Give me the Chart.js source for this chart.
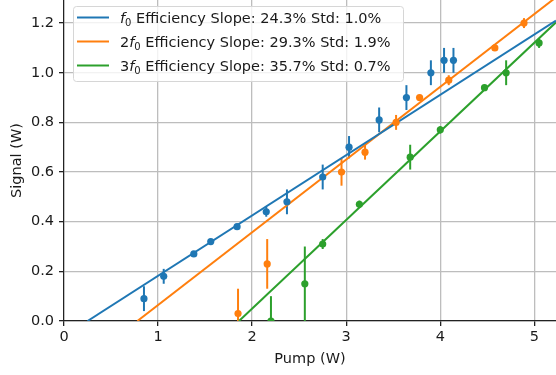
<!DOCTYPE html>
<html lang="en">
<head>
    <meta charset="UTF-8">
    <title>Efficiency Slopes</title>
    <script src="https://cdn.jsdelivr.net/npm/chart.js"></script>
    <style>
        body { margin: 0; background: white; }
        canvas { display: block; }
    </style>
</head>
<body>
    <canvas id="slopeChart" width="556" height="375"></canvas>

    <script>
        // measured points: pump power (W), signal (W), error (W)
        const pumpF0 = [0.85, 1.06, 1.38, 1.56, 1.84, 2.15, 2.37, 2.75, 3.03, 3.35, 3.64, 3.90, 4.04, 4.14];
        const signalF0 = [0.09, 0.18, 0.27, 0.32, 0.38, 0.44, 0.48, 0.58, 0.70, 0.81, 0.90, 1.00, 1.05, 1.05];
        const errF0 = [0.05, 0.03, 0.008, 0.008, 0.008, 0.02, 0.05, 0.05, 0.045, 0.05, 0.05, 0.05, 0.05, 0.05];

        const pump2F0 = [1.85, 2.16, 2.95, 3.20, 3.53, 3.78, 4.09, 4.58, 4.89];
        const signal2F0 = [0.03, 0.23, 0.60, 0.68, 0.80, 0.90, 0.97, 1.10, 1.20];
        const err2F0 = [0.10, 0.10, 0.055, 0.03, 0.03, 0.01, 0.02, 0.01, 0.02];

        const pump3F0 = [2.20, 2.56, 2.75, 3.14, 3.68, 4.00, 4.47, 4.70, 5.05];
        const signal3F0 = [0.00, 0.15, 0.31, 0.47, 0.66, 0.77, 0.94, 1.00, 1.12];
        const err3F0 = [0.10, 0.15, 0.02, 0.015, 0.05, 0.015, 0.01, 0.05, 0.02];

        // linear fits: slope (W/W), threshold (W), std of slope (%)
        const harmonics = [1, 2, 3];
        const slopes = [0.243, 0.293, 0.357];
        const thresholds = [0.25, 0.78, 1.86];
        const stds = [1.0, 1.9, 0.7];
        const colors = ['#1f77b4', '#ff7f0e', '#2ca02c'];

        const xMax = 5.23;
        const yMax = 1.293;

        const pumps = [pumpF0, pump2F0, pump3F0];
        const signals = [signalF0, signal2F0, signal3F0];
        const errors = [errF0, err2F0, err3F0];

        const FONT = 'DejaVu Sans';
        const TEXT = '#1a1a1a';

        const datasets = [];
        harmonics.forEach((h, i) => {
            datasets.push({
                type: 'scatter',
                data: pumps[i].map((x, j) => ({ x: x, y: signals[i][j] })),
                errors: errors[i],
                backgroundColor: colors[i],
                borderWidth: 0,
                pointRadius: 3.6,
                clip: 0
            });
        });
        harmonics.forEach((h, i) => {
            datasets.push({
                type: 'line',
                data: [
                    { x: thresholds[i], y: 0 },
                    { x: xMax, y: slopes[i] * (xMax - thresholds[i]) }
                ],
                borderColor: colors[i],
                borderWidth: 2,
                pointRadius: 0,
                clip: 0
            });
        });

        // vertical error bars for the scatter sets
        const errorBars = {
            id: 'errorBars',
            beforeDatasetsDraw(chart) {
                const { ctx, chartArea, scales } = chart;
                ctx.save();
                ctx.beginPath();
                ctx.rect(chartArea.left, chartArea.top, chartArea.right - chartArea.left, chartArea.bottom - chartArea.top);
                ctx.clip();
                chart.data.datasets.forEach(ds => {
                    if (!ds.errors) return;
                    ctx.strokeStyle = ds.backgroundColor;
                    ctx.lineWidth = 2;
                    ds.data.forEach((p, j) => {
                        const px = scales.x.getPixelForValue(p.x);
                        ctx.beginPath();
                        ctx.moveTo(px, scales.y.getPixelForValue(p.y - ds.errors[j]));
                        ctx.lineTo(px, scales.y.getPixelForValue(p.y + ds.errors[j]));
                        ctx.stroke();
                    });
                });
                ctx.restore();
            }
        };

        // legend with italic f and subscript 0
        const fitLegend = {
            id: 'fitLegend',
            afterDraw(chart) {
                const ctx = chart.ctx;
                const bx = 73, by = 6, bw = 330, bh = 75;
                ctx.save();
                ctx.beginPath();
                ctx.roundRect(bx + 0.5, by + 0.5, bw, bh, 3);
                ctx.fillStyle = 'rgba(255,255,255,0.8)';
                ctx.fill();
                ctx.strokeStyle = '#d6d6d6';
                ctx.lineWidth = 1;
                ctx.stroke();

                ctx.textBaseline = 'alphabetic';
                harmonics.forEach((h, i) => {
                    const rowY = 17.5 + i * 24;
                    ctx.strokeStyle = colors[i];
                    ctx.lineWidth = 2;
                    ctx.beginPath();
                    ctx.moveTo(77, rowY);
                    ctx.lineTo(109, rowY);
                    ctx.stroke();

                    const base = rowY + 5;
                    let x = 120;
                    ctx.fillStyle = TEXT;
                    ctx.font = `14.5px "${FONT}"`;
                    if (h > 1) {
                        ctx.fillText(String(h), x, base);
                        x += ctx.measureText(String(h)).width;
                    }
                    ctx.font = `oblique 14.5px "${FONT}"`;
                    ctx.fillText('f', x, base);
                    x += ctx.measureText('f').width;
                    ctx.font = `10px "${FONT}"`;
                    ctx.fillText('0', x, base + 3);
                    x += ctx.measureText('0').width;
                    ctx.font = `14.5px "${FONT}"`;
                    const rest = ` Efficiency Slope: ${(slopes[i] * 100).toFixed(1)}% Std: ${stds[i].toFixed(1)}%`;
                    ctx.fillText(rest, x, base);
                });
                ctx.restore();
            }
        };

        const tickFont = { family: FONT, size: 14.5 };

        new Chart(document.getElementById('slopeChart'), {
            data: { datasets: datasets },
            options: {
                responsive: false,
                animation: false,
                layout: { padding: 0, autoPadding: false },
                plugins: { legend: { display: false }, tooltip: { enabled: false } },
                scales: {
                    x: {
                        type: 'linear',
                        min: 0,
                        max: xMax,
                        ticks: { stepSize: 1, includeBounds: false, font: tickFont, color: TEXT, padding: 3 },
                        grid: { color: '#bdbdbd', lineWidth: 1.3, tickColor: '#222', tickLength: 5 },
                        border: { color: '#222', width: 1.2 },
                        title: { display: true, text: 'Pump (W)', font: tickFont, color: TEXT, padding: { top: 0, bottom: 7 } },
                        afterFit(scale) {
                            scale.height = 54;
                            scale.paddingLeft = 0;
                            scale.paddingRight = 0;
                        }
                    },
                    y: {
                        type: 'linear',
                        min: 0,
                        max: yMax,
                        ticks: { stepSize: 0.2, includeBounds: false, font: tickFont, color: TEXT, padding: 5,
                                 callback: v => v.toFixed(1) },
                        grid: { color: '#bdbdbd', lineWidth: 1.3, tickColor: '#222', tickLength: 5 },
                        border: { color: '#222', width: 1.2 },
                        title: { display: true, text: 'Signal (W)', font: tickFont, color: TEXT, padding: { top: 9, bottom: 0 } },
                        afterFit(scale) {
                            scale.width = 64;
                            scale.paddingTop = 0;
                            scale.paddingBottom = 0;
                        }
                    }
                }
            },
            plugins: [errorBars, fitLegend]
        });
    </script>
</body>
</html>
